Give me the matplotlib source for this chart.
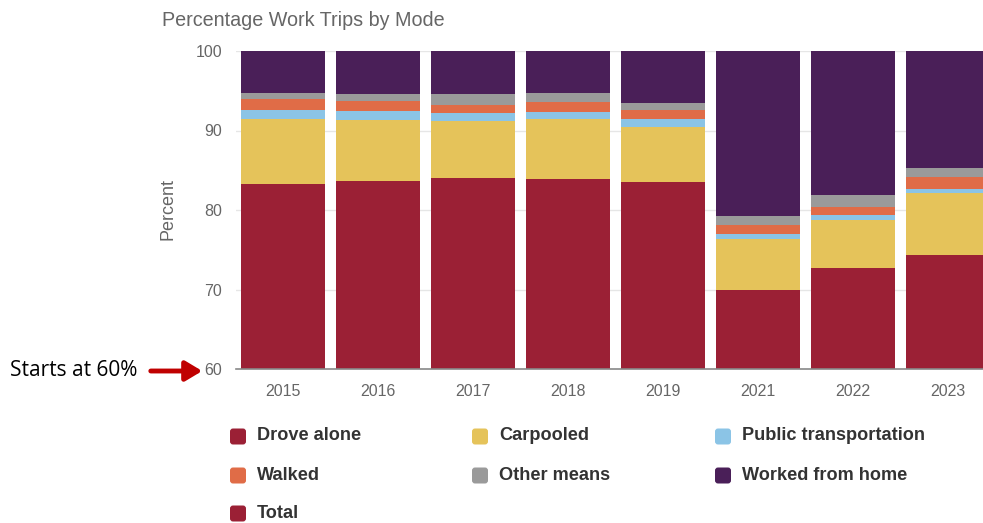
import matplotlib
matplotlib.use("Agg")
import matplotlib.pyplot as plt
import numpy as np
from matplotlib.patches import FancyBboxPatch, FancyArrowPatch

plt.rcParams['font.family'] = ['Liberation Sans', 'DejaVu Sans']

years = ["2015", "2016", "2017", "2018", "2019", "2021", "2022", "2023"]
drove_alone = [83.3, 83.65, 84.05, 83.85, 83.5, 69.95, 72.65, 74.3]
carpooled = [8.2, 7.7, 7.15, 7.55, 7.0, 6.35, 6.15, 7.9]
public_transportation = [1.05, 1.05, 0.95, 0.95, 0.95, 0.7, 0.55, 0.4]
walked = [1.45, 1.25, 1.05, 1.2, 1.1, 1.15, 1.05, 1.5]
other_means = [0.75, 0.95, 1.35, 1.15, 0.9, 1.15, 1.45, 1.15]
worked_from_home = [5.3, 5.4, 5.45, 5.3, 6.55, 20.7, 18.15, 14.75]
total = [100, 100, 100, 100, 100, 100, 100, 100]

series_names = ["Drove alone", "Carpooled", "Public transportation",
                "Walked", "Other means", "Worked from home", "Total"]
series_values = [drove_alone, carpooled, public_transportation,
                 walked, other_means, worked_from_home, total]
colors = ["#9B2035", "#E5C35A", "#8BC4E6", "#E06C47", "#9A9A9A", "#4A1F58", "#9B2035"]

W, H = 983, 523
fig = plt.figure(figsize=(W / 100, H / 100), dpi=100)
fig.patch.set_facecolor("white")

# plot area: category band 235.5..995.5 px, 60 at 369 px, 100 at 51 px
ax = fig.add_axes([235.5 / W, (H - 369) / H, 760 / W, 318 / H])
ax.set_facecolor("white")

x = np.arange(len(years))
bottom = np.zeros(len(years))
for name, vals, col in zip(series_names, series_values, colors):
    v = np.array(vals, dtype=float)
    ax.bar(x, v, bottom=bottom, width=84 / 95, color=col, label=name,
           linewidth=0, zorder=2)
    bottom += v

ax.set_xlim(-0.5, len(years) - 0.5)
ax.set_ylim(60, 100)
ax.set_yticks([60, 70, 80, 90, 100])
ax.set_xticks(x)
ax.set_xticklabels(years)
ax.grid(axis="y", color="#e6e6e6", linewidth=1, zorder=0)
ax.set_axisbelow(True)
for s in ["top", "right", "left"]:
    ax.spines[s].set_visible(False)
ax.spines["bottom"].set_color("#888888")
ax.spines["bottom"].set_linewidth(1.2)
ax.spines["bottom"].set_zorder(3)
ax.tick_params(axis="y", length=0, pad=9.5, labelsize=11.5, labelcolor="#666666")
ax.tick_params(axis="x", length=0, pad=11, labelsize=11.5, labelcolor="#666666")
ax.set_ylabel("Percent", fontsize=13, color="#666666")
ax.yaxis.set_label_coords((177 - 235.5) / 760, (369 - 209) / 318)

fig.text(162 / W, 1 - 20 / H, "Percentage Work Trips by Mode",
         fontsize=14.2, color="#666666", va="center", ha="left")

# legend drawn in pixel coordinates
col_x = [230, 472, 715]
row_y = [436, 475, 513]
for i, (name, col) in enumerate(zip(series_names, colors)):
    cx = col_x[i % 3]
    cy = row_y[i // 3]
    box = FancyBboxPatch((cx, H - cy - 8.5), 16, 16,
                         boxstyle="round,pad=0,rounding_size=3",
                         facecolor=col, edgecolor="none", transform=None)
    fig.add_artist(box)
    fig.text((cx + 27) / W, 1 - cy / H, name, fontsize=13.1, fontweight="bold",
             color="#333333", va="center", ha="left")

# note about the truncated value axis
fig.text(10 / W, 1 - 370 / H, "Starts at 60%", fontsize=15, color="black",
         va="center", ha="left", family=["Open Sans", "DejaVu Sans"])
arrow = FancyArrowPatch((148 / W, 1 - 371 / H), (205 / W, 1 - 371 / H),
                        transform=fig.transFigure,
                        arrowstyle="-|>,head_length=10,head_width=6",
                        color="#C00000", linewidth=3.5, mutation_scale=1)
fig.add_artist(arrow)

fig.savefig("out.png", dpi=100, facecolor="white")
